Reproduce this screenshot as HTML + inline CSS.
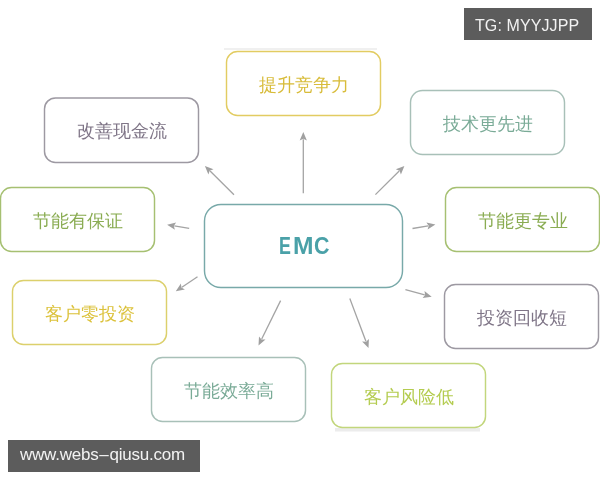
<!DOCTYPE html>
<html><head><meta charset="utf-8"><style>
html,body{margin:0;padding:0;background:#fff;width:600px;height:480px;overflow:hidden;position:relative;font-family:"Liberation Sans",sans-serif}
svg{position:absolute;left:0;top:0}
.tx{position:absolute;display:flex;align-items:center;justify-content:center;font-size:18px;line-height:1;will-change:transform}
.emc{position:absolute;left:0;top:0;width:600px;height:480px;font-size:23px;font-weight:bold;color:#4aa1a8;will-change:transform}
.emc i{font-style:normal;position:absolute;top:234.9px;line-height:23px;transform-origin:0 0}
.wm{position:absolute;background:#5c5c5c;color:#f2f2f2;line-height:1;will-change:transform}
</style></head><body>
<svg width="600" height="480" viewBox="0 0 600 480">
<rect x="224" y="48" width="153" height="2" fill="#f0f0f0"/>
<rect x="335" y="428" width="145" height="3.5" fill="#ececec"/>
<g fill="none" stroke-width="1.45">
<rect x="226.5" y="51.5" width="154.00" height="64.00" rx="11" stroke="#e2cc62"/>
<rect x="44.5" y="97.9" width="154.00" height="64.60" rx="11" stroke="#9d99a2"/>
<rect x="410.5" y="90.5" width="154.00" height="64.00" rx="12" stroke="#a8c0b8"/>
<rect x="0.5" y="187.5" width="154.00" height="64.00" rx="11" stroke="#a6c072"/>
<rect x="445.5" y="187.5" width="154.00" height="64.00" rx="11" stroke="#a6c072"/>
<rect x="12.5" y="280.5" width="154.00" height="64.00" rx="11" stroke="#dcd06c"/>
<rect x="444.5" y="284.5" width="154.00" height="64.00" rx="11" stroke="#9d99a2"/>
<rect x="151.5" y="357.5" width="154.00" height="64.00" rx="11" stroke="#a8c0b8"/>
<rect x="331.5" y="363.5" width="154.00" height="64.00" rx="11" stroke="#c2d67c"/>
<rect x="204.5" y="204.5" width="198" height="83" rx="16.5" stroke="#78a9a9"/>
</g>
<g stroke="#a4a4a4" stroke-width="1.3" fill="#a0a0a0">
<line x1="303.3" y1="193.3" x2="303.3" y2="139.3"/>
<path stroke="none" d="M303.3 132.0L306.9 140.5L303.3 138.8L299.7 140.5Z"/>
<line x1="234.0" y1="194.8" x2="210.1" y2="171.0"/>
<path stroke="none" d="M204.9 165.9L213.5 169.3L209.7 170.7L208.4 174.4Z"/>
<line x1="189.2" y1="228.3" x2="174.3" y2="225.9"/>
<path stroke="none" d="M167.1 224.8L176.1 222.6L173.8 225.9L174.9 229.7Z"/>
<line x1="197.5" y1="276.7" x2="181.9" y2="287.2"/>
<path stroke="none" d="M175.8 291.2L180.9 283.5L181.4 287.5L184.9 289.5Z"/>
<line x1="280.6" y1="300.6" x2="261.7" y2="339.0"/>
<path stroke="none" d="M258.5 345.6L259.0 336.4L261.5 339.5L265.5 339.6Z"/>
<line x1="349.8" y1="298.5" x2="365.9" y2="341.3"/>
<path stroke="none" d="M368.5 348.1L362.1 341.4L366.1 341.7L368.9 338.9Z"/>
<line x1="405.4" y1="289.6" x2="424.7" y2="294.9"/>
<path stroke="none" d="M431.7 296.8L422.6 298.0L425.1 295.0L424.5 291.1Z"/>
<line x1="412.5" y1="228.5" x2="428.2" y2="225.8"/>
<path stroke="none" d="M435.4 224.6L427.6 229.6L428.7 225.7L426.4 222.5Z"/>
<line x1="375.4" y1="194.6" x2="399.2" y2="171.0"/>
<path stroke="none" d="M404.4 165.9L400.9 174.4L399.6 170.7L395.8 169.3Z"/>
</g></svg>
<div class="tx" style="left:226.5px;top:52.50px;width:154.00px;height:64.00px;color:#d8bc3a">提升竞争力</div>
<div class="tx" style="left:44.5px;top:98.90px;width:154.00px;height:64.60px;color:#7f7587">改善现金流</div>
<div class="tx" style="left:410.5px;top:91.50px;width:154.00px;height:64.00px;color:#7aab97">技术更先进</div>
<div class="tx" style="left:0.5px;top:188.50px;width:154.00px;height:64.00px;color:#8aac52">节能有保证</div>
<div class="tx" style="left:445.5px;top:188.50px;width:154.00px;height:64.00px;color:#8aac52">节能更专业</div>
<div class="tx" style="left:12.5px;top:281.50px;width:154.00px;height:64.00px;color:#dcc23c">客户零投资</div>
<div class="tx" style="left:444.5px;top:285.50px;width:154.00px;height:64.00px;color:#7f7587">投资回收短</div>
<div class="tx" style="left:151.5px;top:358.50px;width:154.00px;height:64.00px;color:#7aab97">节能效率高</div>
<div class="tx" style="left:331.5px;top:364.50px;width:154.00px;height:64.00px;color:#b4cc50">客户风险低</div>
<div class="emc"><i style="left:278.5px;transform:scaleX(0.775)">E</i><i style="left:293.2px;transform:scaleX(1.07)">M</i><i style="left:314.1px;transform:scaleX(0.93)">C</i></div>
<div class="wm" style="left:464px;top:8px;width:128px;height:31.5px"><span style="position:absolute;left:11px;top:10.2px;font-size:16px;letter-spacing:0.1px">TG: MYYJJPP</span></div>
<div class="wm" style="left:8px;top:440px;width:192px;height:32px"><span style="position:absolute;left:12px;top:6px;font-size:17px;letter-spacing:-0.22px">www.webs<span style="margin:0 0.8px">–</span>qiusu.com</span></div>
</body></html>
